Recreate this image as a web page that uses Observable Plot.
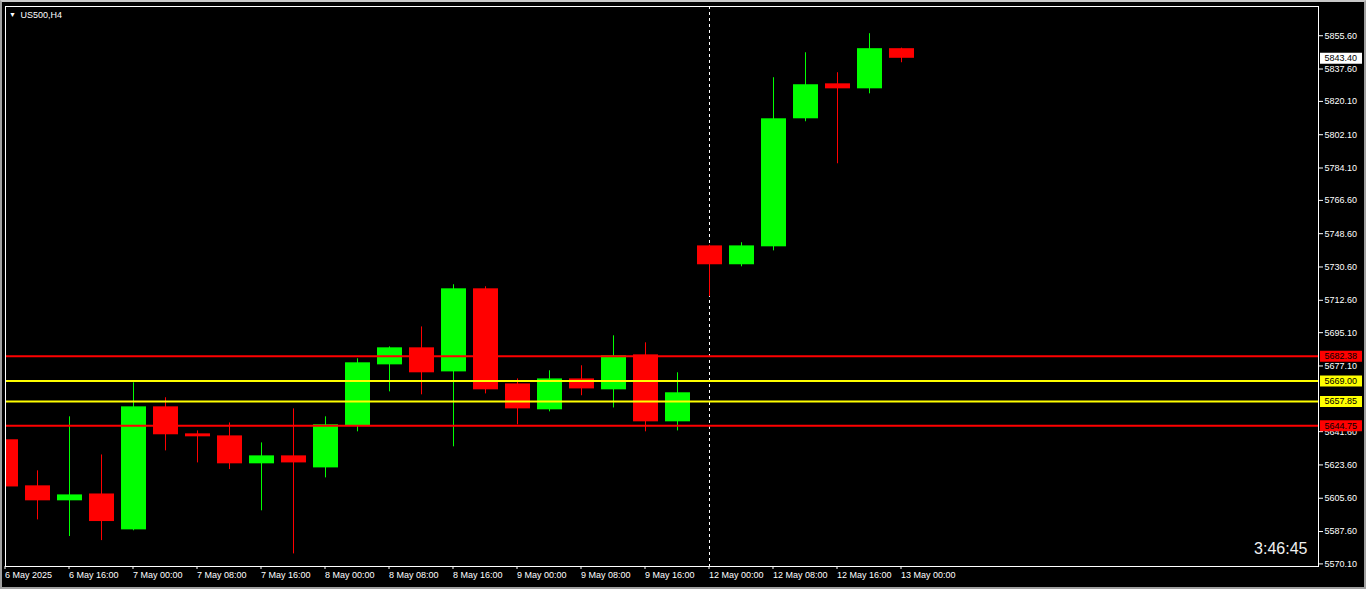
<!DOCTYPE html>
<html><head><meta charset="utf-8">
<script src="https://cdn.jsdelivr.net/npm/d3@7"></script>
<script src="https://cdn.jsdelivr.net/npm/@observablehq/plot@0.6"></script>
<style>
html,body{margin:0;padding:0;background:#000;overflow:hidden}
#chart{position:relative;width:1366px;height:589px}
#edge{position:absolute;left:0;top:0;width:1366px;height:589px;box-sizing:border-box;border:2px solid #a0a0a0;border-top-color:#c8c8c8;pointer-events:none}
</style></head><body><div id="chart"><div id="edge"></div></div>
<script>
// ---- data (US500, H4) ----
const times = ["6 May 08:00","6 May 12:00","6 May 16:00","6 May 20:00","7 May 00:00","7 May 04:00","7 May 08:00","7 May 12:00","7 May 16:00","7 May 20:00","8 May 00:00","8 May 04:00","8 May 08:00","8 May 12:00","8 May 16:00","8 May 20:00","9 May 00:00","9 May 04:00","9 May 08:00","9 May 12:00","9 May 16:00","9 May 20:00","12 May 00:00","12 May 04:00","12 May 08:00","12 May 12:00","12 May 16:00","12 May 20:00","13 May 00:00"];
const open  = [5637.2,5612.3,5604.2,5607.9,5588.5,5655.0,5640.4,5639.3,5624.2,5628.5,5622.0,5644.9,5677.7,5686.9,5673.9,5718.8,5667.4,5653.4,5670.1,5664.2,5683.1,5646.9,5742.0,5731.8,5741.5,5810.7,5829.6,5826.9,5848.6];
const high  = [5638.2,5620.4,5649.6,5629.0,5668.0,5659.9,5642.0,5646.3,5635.5,5653.9,5649.6,5681.0,5687.4,5698.2,5721.0,5719.9,5670.1,5674.5,5677.2,5693.4,5689.6,5673.4,5742.4,5743.7,5832.9,5846.4,5835.6,5856.7,5848.9];
const low   = [5603.2,5593.9,5584.9,5582.7,5588.0,5631.2,5624.7,5621.1,5598.8,5575.5,5616.6,5641.5,5663.1,5661.5,5633.4,5662.0,5645.3,5652.3,5661.0,5654.4,5641.5,5642.0,5714.6,5730.7,5739.3,5809.1,5786.4,5824.2,5841.0];
const close = [5611.7,5604.2,5607.4,5593.0,5655.0,5639.9,5638.8,5624.2,5628.5,5624.7,5645.3,5678.8,5686.9,5673.4,5718.8,5664.2,5653.9,5670.1,5664.7,5682.6,5646.9,5662.6,5731.8,5742.0,5810.7,5829.1,5826.9,5848.6,5843.4];

const xTickLabels = ["6 May 2025","6 May 16:00","7 May 00:00","7 May 08:00","7 May 16:00","8 May 00:00","8 May 08:00","8 May 16:00","9 May 00:00","9 May 08:00","9 May 16:00","12 May 00:00","12 May 08:00","12 May 16:00","13 May 00:00"];
const xTickTimes = ["6 May 08:00","6 May 16:00","7 May 00:00","7 May 08:00","7 May 16:00","8 May 00:00","8 May 08:00","8 May 16:00","9 May 00:00","9 May 08:00","9 May 16:00","12 May 00:00","12 May 08:00","12 May 16:00","13 May 00:00"];
const yTicks = [5855.60,5837.60,5820.10,5802.10,5784.10,5766.60,5748.60,5730.60,5712.60,5695.10,5677.10,5641.60,5623.60,5605.60,5587.60,5570.10];

const levels = [5682.38, 5669.00, 5657.85, 5644.75];
const levelColors = ["#ff0000", "#ffff00", "#ffff00", "#ff0000"];
const lastPrice = 5843.40;
const separatorTime = "12 May 00:00";
const symbolTitle = "US500,H4";
const countdown = "3:46:45";

// ---- build ----
const UP = "#00ff00", DOWN = "#ff0000";
const candles = times.map((t, i) => ({
  i, t, open: open[i], high: high[i], low: low[i], close: close[i],
  color: close[i] > open[i] ? UP : DOWN
}));
const tickIdx = xTickTimes.map(t => times.indexOf(t));
const tickLabelOf = new Map(tickIdx.map((v, k) => [v, xTickLabels[k]]));
const sepIdx = times.indexOf(separatorTime);
const tags = levels.map((v, k) => ({value: v, color: levelColors[k]}))
  .concat([{value: lastPrice, color: "#ffffff"}]);

const W = 1366, H = 589;
const mL = 5, mR = 48, mT = 6, mB = 23;
const step = 32;                 // pixels per bar
const half = 12.5 / step;        // half body width in bar units
const xDomain = [-0.5 / step, (W - mR - mL - 0.5) / step];

// rectangular price-tag symbol (42 x 11 px)
const tagBox = {draw(ctx) { ctx.rect(-21, -5.5, 42, 11); }};

const font = "Liberation Sans, Arial, sans-serif";

const chart = Plot.plot({
  width: W, height: H,
  marginLeft: mL, marginRight: mR, marginTop: mT, marginBottom: mB,
  style: {background: "#000", color: "#fff", fontFamily: font, fontSize: "9px"},
  x: {type: "linear", domain: xDomain, axis: null},
  y: {type: "linear", domain: [5568.7, 5871.4], axis: null},
  marks: [
    Plot.ruleX([sepIdx], {x: d => d, dx: -0.5, stroke: "#fff", strokeDasharray: "3,3"}),
    Plot.ruleX(candles, {x: "i", y1: "low", y2: "high", dx: -0.5, stroke: "color", clip: true}),
    Plot.rect(candles, {x1: d => d.i - half, x2: d => d.i + half, y1: "open", y2: "close", fill: "color", clip: true}),
    Plot.ruleY(levels, {y: d => d, stroke: (d, k) => levelColors[k], strokeWidth: 2}),
    Plot.frame({stroke: "#fff"}),
    Plot.axisY(yTicks, {anchor: "right", tickSize: 4, tickPadding: 2, tickFormat: d => d.toFixed(2),
      stroke: "#fff", fill: "#fff", fontSize: 9, label: null}),
    Plot.axisX(tickIdx, {anchor: "bottom", tickSize: 3, tickPadding: 2, tickFormat: d => tickLabelOf.get(d),
      textAnchor: "start", dx: -1, stroke: "#fff", fill: "#fff", fontSize: 9, label: null}),
    Plot.dot(tags, {y: "value", frameAnchor: "right", dx: 22.5, symbol: tagBox, r: 5, fill: "color", stroke: null}),
    Plot.text(tags, {y: "value", frameAnchor: "right", dx: 6, textAnchor: "start",
      text: d => d.value.toFixed(2), fill: "#000", fontSize: 9}),
    Plot.text([symbolTitle], {frameAnchor: "top-left", dx: 15, dy: 9, lineAnchor: "middle",
      textAnchor: "start", text: d => d, fill: "#fff", fontSize: 9}),
    Plot.text(["\u25BC"], {frameAnchor: "top-left", dx: 7, dy: 8, lineAnchor: "middle",
      textAnchor: "middle", text: d => d, fill: "#fff", fontSize: 7}),
    Plot.text([countdown], {frameAnchor: "bottom-right", dx: -11, dy: -18, lineAnchor: "middle",
      textAnchor: "end", text: d => d, fill: "#f0f0f0", fontSize: 16})
  ]
});
const host = document.getElementById("chart");
host.insertBefore(chart, host.firstChild);
</script>
</body></html>
